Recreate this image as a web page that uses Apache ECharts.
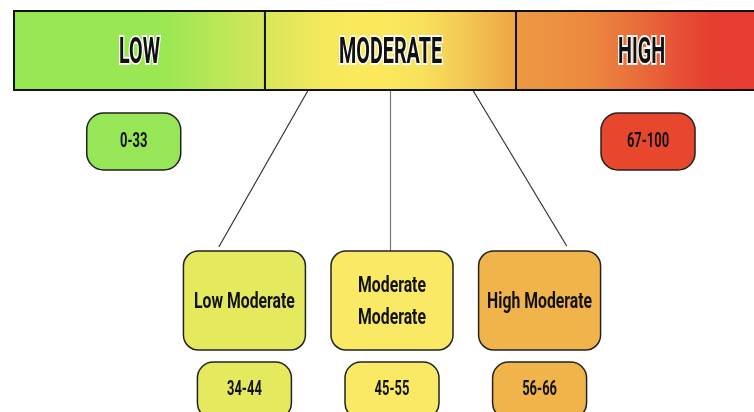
<!DOCTYPE html>
<html style="height: 100%">
<head>
<meta charset="utf-8">
</head>
<body style="height: 100%; margin: 0; background: #fff">
	<div id="container" style="width: 754px; height: 412px"></div>
	<script type="text/javascript" src="https://cdn.jsdelivr.net/npm/echarts@6.0.0/dist/echarts.min.js"></script>
	<script type="text/javascript">
		// risk bands on a 0-100 score
		var bandNames = ['LOW', 'MODERATE', 'HIGH'];
		var bandFrom = [0, 33.33, 66.67];
		var bandTo = [33.33, 66.67, 100];
		var bandRanges = ['0-33', '', '67-100'];
		// the moderate band split in three
		var subNames = ['Low Moderate', 'Moderate\nModerate', 'High Moderate'];
		var subFrom = [34, 45, 56];
		var subTo = [44, 55, 66];
		var subRanges = ['34-44', '45-55', '56-66'];

		// layout (x in score units, y in pixels)
		var bandBoxX = [15.9, null, 84.2];
		var subBoxX = [30.6, 50.2, 69.8];
		var lineEndX = [27.2, 50, 73.4];
		var lineEndY = [247, 251, 246];
		var lineColor = ['#333', '#777', '#333'];

		var bandStops = [
			[[0, '#96e752'], [0.58, '#98e753'], [1, '#d6e65a']],
			[[0, '#d8e65a'], [0.25, '#f7e85c'], [0.45, '#fbe95a'], [0.62, '#f8e25c'], [0.82, '#f2c452'], [1, '#eea444']],
			[[0, '#ec9a42'], [0.3, '#eb883f'], [0.5, '#e96b3a'], [0.66, '#e74e35'], [0.78, '#e63e31'], [1, '#e63c31']]
		];
		var bandBoxColor = ['#97e658', null, '#e8472d'];
		var subColor = ['#e4e95d', '#fae964', '#f1b44b'];

		var dom = document.getElementById("container");
		var myChart = echarts.init(dom);

		function txt(x, y, text, font, sx, sy, extra) {
			var style = {
				text: text,
				x: 0,
				y: 0,
				font: font,
				fill: '#111',
				align: 'center',
				verticalAlign: 'middle'
			};
			for (var k in extra) style[k] = extra[k];
			return { type: 'text', x: x, y: y, scaleX: sx, scaleY: sy, style: style };
		}

		function box(cx, top, w, h, r, fill) {
			return {
				type: 'rect',
				shape: { x: cx - w / 2, y: top, width: w, height: h, r: r },
				style: { fill: fill, stroke: '#222', lineWidth: 1.5 }
			};
		}

		var option = {
			animation: false,
			grid: { left: 14, width: 753, top: 0, height: 412, outerBoundsMode: 'none' },
			xAxis: { type: 'value', min: 0, max: 100, show: false },
			yAxis: { type: 'value', min: 0, max: 412, inverse: true, show: false },
			series: [
				{
					// connectors from the moderate band down to its parts
					type: 'custom',
					data: subNames.map(function (n, i) { return [(subFrom[i] + subTo[i]) / 2, i]; }),
					renderItem: function (params, api) {
						var i = api.value(1);
						var a = api.coord([api.value(0), 91]);
						var b = api.coord([lineEndX[i], lineEndY[i]]);
						return {
							type: 'line',
							shape: { x1: a[0], y1: a[1], x2: b[0], y2: b[1] },
							style: { stroke: lineColor[i], lineWidth: 1.2 }
						};
					}
				},
				{
					// the gradient bar
					type: 'custom',
					data: bandNames.map(function (n, i) { return [bandFrom[i], bandTo[i], i]; }),
					renderItem: function (params, api) {
						var i = api.value(2);
						var a = api.coord([api.value(0), 11]);
						var b = api.coord([api.value(1), 90]);
						return {
							type: 'group',
							children: [
								{
									type: 'rect',
									shape: { x: a[0], y: a[1], width: b[0] - a[0], height: b[1] - a[1] },
									style: {
										fill: new echarts.graphic.LinearGradient(0, 0, 1, 0, bandStops[i].map(function (s) {
											return { offset: s[0], color: s[1] };
										})),
										stroke: '#111',
										lineWidth: 2
									}
								},
								txt((a[0] + b[0]) / 2, 54, bandNames[i], 'bold 26px Roboto', 0.76, 1.4,
									{ stroke: '#fff', lineWidth: 3 })
							]
						};
					}
				},
				{
					// score range of low / high
					type: 'custom',
					data: bandNames.map(function (n, i) { return [bandBoxX[i], i]; }).filter(function (d) { return bandRanges[d[1]]; }),
					renderItem: function (params, api) {
						var i = api.value(1);
						var c = api.coord([api.value(0), 113]);
						return {
							type: 'group',
							children: [
								box(c[0], 113, 94, 57, 17, bandBoxColor[i]),
								txt(c[0], 142, bandRanges[i], 'bold 18px Roboto', 0.72, 1.1)
							]
						};
					}
				},
				{
					// moderate sub-levels
					type: 'custom',
					data: subNames.map(function (n, i) { return [subBoxX[i], i]; }),
					renderItem: function (params, api) {
						var i = api.value(1);
						var c = api.coord([api.value(0), 251]);
						return {
							type: 'group',
							children: [
								box(c[0], 251, 122, 99, 15, subColor[i]),
								txt(c[0], 302, subNames[i], 'bold 19px Roboto', 0.83, 1.2, { lineHeight: 27 }),
								box(c[0], 362, 94, 57, 16, subColor[i]),
								txt(c[0], 390, subRanges[i], 'bold 18px Roboto', 0.72, 1.1)
							]
						};
					}
				}
			]
		};
		myChart.setOption(option, true);
	</script>
</body>
</html>
